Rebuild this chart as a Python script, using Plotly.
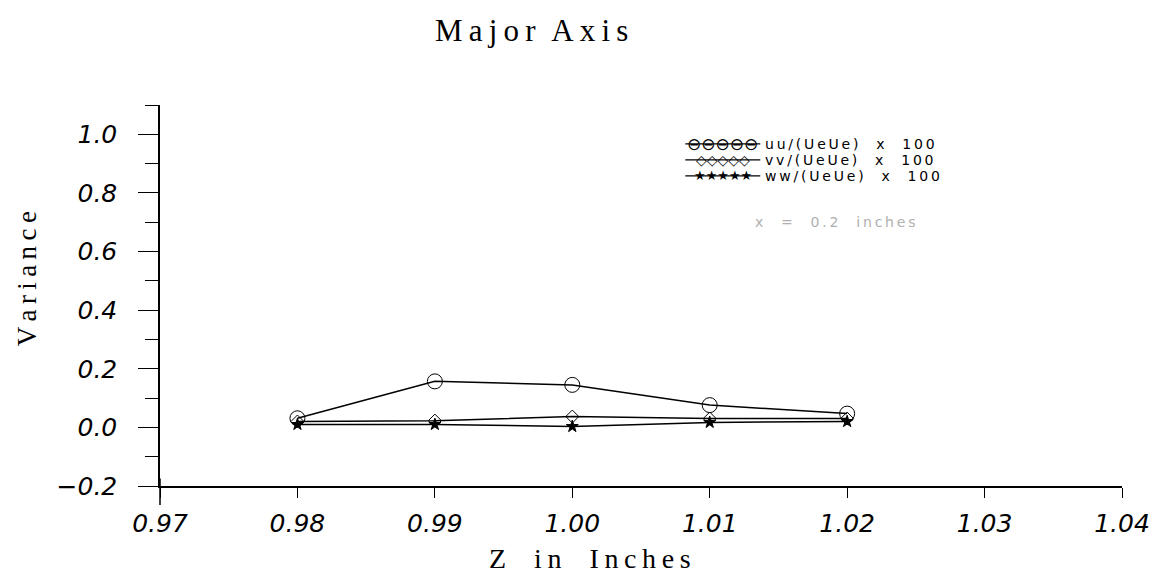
import plotly.graph_objects as go

z_inches = [0.98, 0.99, 1.00, 1.01, 1.02]
uu_var = [0.031, 0.157, 0.145, 0.076, 0.047]
vv_var = [0.020, 0.023, 0.037, 0.030, 0.030]
ww_var = [0.010, 0.010, 0.003, 0.017, 0.020]

x_ticks = [0.97, 0.98, 0.99, 1.00, 1.01, 1.02, 1.03, 1.04]
y_ticks = [-0.2, 0.0, 0.2, 0.4, 0.6, 0.8, 1.0]

series_names = ["uu/(UeUe) x 100", "vv/(UeUe) x 100", "ww/(UeUe) x 100"]
series_values = [uu_var, vv_var, ww_var]
series_symbols = ["circle-open", "diamond-open", "star"]
series_sizes = [15, 10, 9]
legend_samples = ["⊖⊖⊖⊖⊖", "◇◇◇◇◇", "★★★★★"]
legend_sample_sizes = [17, 14, 13]

TS = "\u2009"  # thin space used for letter spacing


def spaced(text, gap=TS, word_gap="  "):
    words = text.split(" ")
    return word_gap.join(gap.join(list(w)) for w in words)


fig = go.Figure()
for name, vals, sym, size in zip(series_names, series_values, series_symbols, series_sizes):
    fig.add_trace(go.Scatter(
        x=z_inches, y=vals, name=name, mode="lines+markers",
        line=dict(color="black", width=1.5),
        marker=dict(symbol=sym, size=size, color="black",
                    line=dict(color="black", width=1)),
        showlegend=False,
    ))

tickfont = dict(family="DejaVu Sans", size=25, color="black", style="italic")

# plot area (page pixels): x 160..1122, y 105..486
annotations = []
shapes = []
row_y = [0.898, 0.856, 0.814]
for i, name in enumerate(series_names):
    shapes.append(dict(type="line", xref="paper", yref="paper",
                       x0=0.546, x1=0.624, y0=row_y[i], y1=row_y[i],
                       line=dict(color="black", width=1.2)))
    annotations.append(dict(text=legend_samples[i], xref="paper", yref="paper",
                            x=0.585, y=row_y[i], xanchor="center", yanchor="middle",
                            showarrow=False,
                            font=dict(family="DejaVu Sans", size=legend_sample_sizes[i],
                                      color="black")))
    annotations.append(dict(text=spaced(name, word_gap="    "), xref="paper", yref="paper",
                            x=0.627, y=row_y[i], xanchor="left", yanchor="middle",
                            showarrow=False,
                            font=dict(family="DejaVu Sans", size=14, color="black")))

annotations.append(dict(text=spaced("x = 0.2 inches", word_gap="    "),
                        xref="paper", yref="paper",
                        x=0.616, y=0.693, xanchor="left", yanchor="middle",
                        showarrow=False,
                        font=dict(family="DejaVu Sans", size=14, color="#b0b0b0")))

# axis titles placed like the reference (not centred on the plot area)
annotations.append(dict(text=spaced("Z in Inches", word_gap="\u2002\u2002"),
                        xref="paper", yref="paper", x=0.447, y=-0.189,
                        xanchor="center", yanchor="middle", showarrow=False,
                        font=dict(family="Liberation Serif", size=28, color="black")))
annotations.append(dict(text=spaced("Variance"), textangle=-90,
                        xref="paper", yref="paper", x=-0.138, y=0.543,
                        xanchor="center", yanchor="middle", showarrow=False,
                        font=dict(family="Liberation Serif", size=27, color="black")))

# longer tick crossing the axis at the origin corner
shapes.append(dict(type="line", xref="paper", yref="paper", x0=0, x1=0,
                   y0=-0.05, y1=0.02, line=dict(color="black", width=1.5)))

# page body has an 8px margin: figure is offset by (8, 8)
fig.update_layout(
    width=1151, height=573,
    margin=dict(l=152, r=37, t=97, b=95),
    paper_bgcolor="white", plot_bgcolor="white",
    showlegend=False,
    title=dict(text=spaced("Major Axis", word_gap="\u2002"), x=0.455, xanchor="center",
               y=0.962, yanchor="middle",
               font=dict(family="Liberation Serif", size=31, color="black")),
    annotations=annotations,
    shapes=shapes,
)

fig.update_xaxes(
    range=[0.97, 1.04], tickvals=x_ticks, ticktext=[f"{v:.2f}" for v in x_ticks],
    showgrid=False, zeroline=False, showline=True, linecolor="black", linewidth=1.5,
    ticks="outside", ticklen=10, tickwidth=1, tickcolor="black",
    tickfont=tickfont, ticklabelstandoff=4, automargin=False,
)
fig.update_yaxes(
    range=[-0.2, 1.1], tickvals=y_ticks,
    ticktext=[f"{v:.1f}".replace("-", "\u2212") for v in y_ticks],
    showgrid=False, zeroline=False, showline=True, linecolor="black", linewidth=1.5,
    ticks="outside", ticklen=20, tickwidth=1.2, tickcolor="black",
    minor=dict(dtick=0.1, ticks="outside", ticklen=13, tickcolor="black", tickwidth=1),
    tickfont=tickfont, ticklabelstandoff=16, automargin=False,
)

fig.write_html("out.html")
